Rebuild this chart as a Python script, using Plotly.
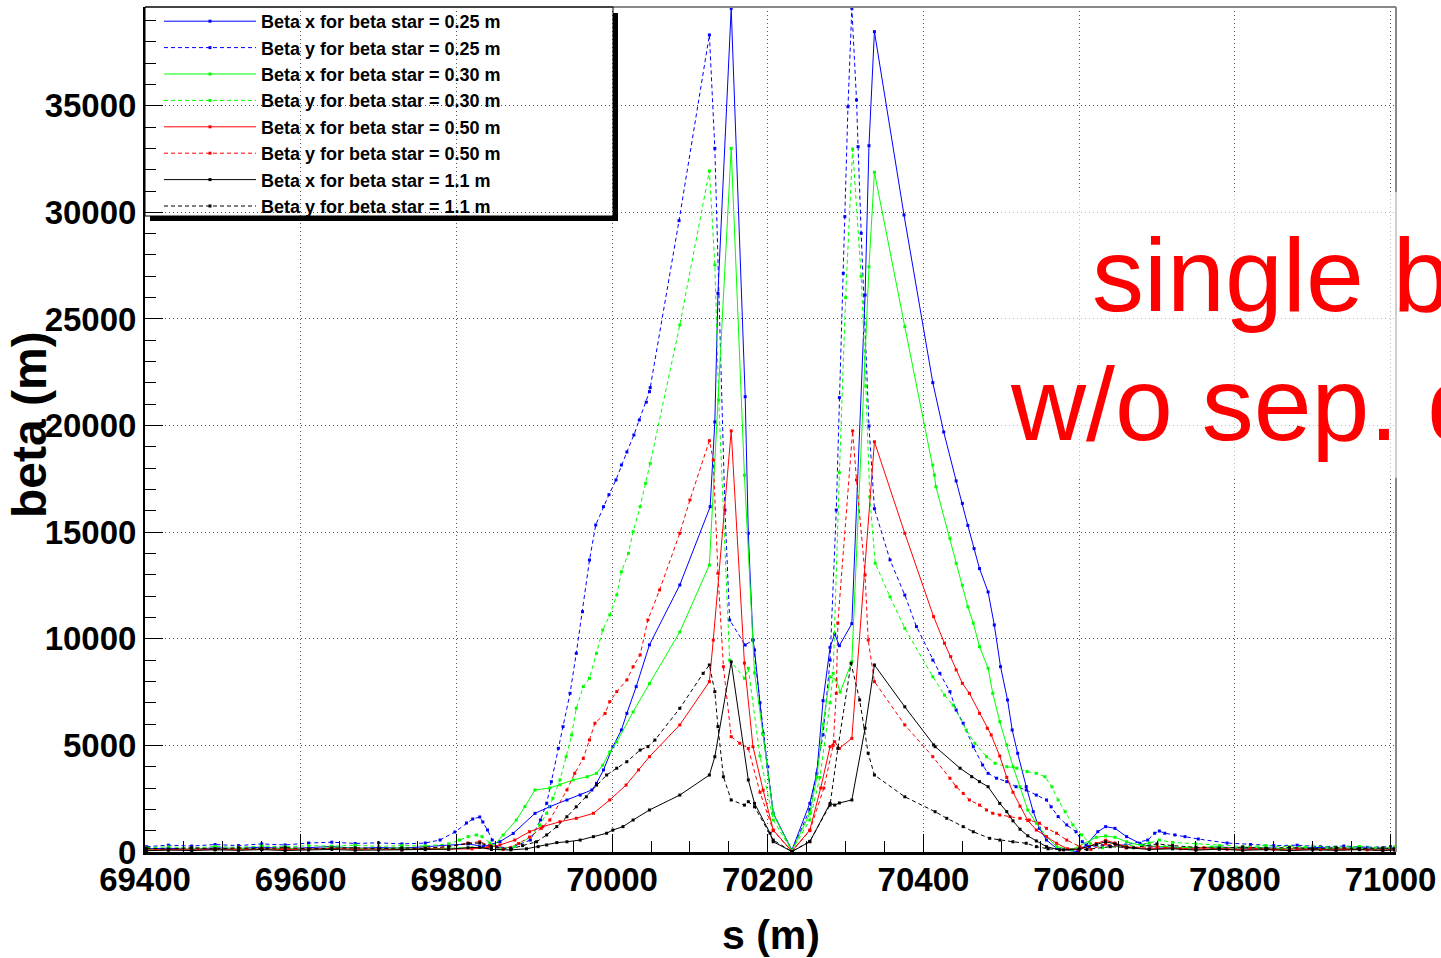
import plotly.graph_objects as go

# beta functions around the IP: s (m) and beta (m) per curve
s_bx025 = [69402, 69430, 69460, 69490, 69520, 69550, 69580, 69610, 69640, 69670, 69700, 69730, 69760, 69790, 69815, 69835,
           69856, 69873, 69901, 69920, 69942, 69959, 69974, 69980, 69989, 70001, 70012, 70019, 70031, 70048, 70087, 70126,
           70132, 70136, 70153, 70171, 70175, 70181, 70183, 70194, 70207, 70231,
           70254, 70263, 70271, 70280, 70286, 70292, 70308, 70325, 70330, 70337, 70375, 70412, 70426, 70442, 70450, 70457,
           70465, 70472, 70483, 70491, 70499, 70508, 70514, 70521, 70532, 70541, 70549, 70558, 70571, 70598, 70609, 70624,
           70634, 70646, 70661, 70678, 70691, 70720, 70750, 70780, 70810, 70840, 70870, 70900, 70930, 70960, 70990, 71005]
beta_bx025 = [150, 180, 120, 200, 160, 230, 150, 190, 260, 170, 210, 180, 240, 300, 380, 260,
              483, 873, 1813, 2126, 2439, 2673, 2908, 3221, 3846, 4941, 5722, 6504, 7755, 9715, 12523, 16195,
              20170, 26200, 39570, 21353, 14949, 9943, 9474, 5566, 1813, 94,
              2282, 3690, 7098, 9600, 10225, 9676, 10709, 26120, 33125, 38474, 29876, 22012, 19700, 17403, 16351, 15315,
              14231, 13292, 12196, 10647, 8692, 7129, 5722, 4629, 3066, 1893, 1110, 563, 172, 15, 328, 953,
              1189, 1110, 719, 407, 250, 210, 180, 240, 160, 200, 150, 220, 170, 190, 150, 200]

s_by025 = [69402, 69430, 69460, 69490, 69520, 69550, 69580, 69610, 69640, 69670, 69700, 69730, 69760,
           69779, 69798, 69813, 69821, 69830, 69834, 69840, 69846, 69852,
           69870, 69895, 69908, 69916, 69922, 69931, 69937, 69946, 69954, 69962, 69971, 69979, 69989, 69996, 70005, 70012,
           70019, 70028, 70035, 70044, 70048, 70049,
           70086, 70125, 70132, 70145, 70151, 70171, 70181, 70190, 70200, 70207, 70231,
           70254, 70271, 70280, 70288, 70292, 70297, 70299, 70303, 70308, 70314, 70316, 70320, 70330, 70337, 70357, 70376,
           70391, 70412, 70421, 70434, 70442, 70451, 70464, 70476, 70483, 70494, 70507, 70519, 70532, 70545, 70558, 70564,
           70573, 70584, 70596, 70604, 70613, 70630, 70660, 70688, 70697, 70703, 70710, 70723, 70736, 70753, 70790, 70820,
           70850, 70880, 70910, 70940, 70970, 71000]
beta_by025 = [250, 320, 280, 350, 300, 380, 330, 420, 460, 400, 430, 380, 420,
              563, 938, 1360, 1548, 1642, 1407, 1032, 563, 234,
              200, 560, 1500, 2284, 3297, 4863, 5877, 7443, 9319, 11270, 13695, 15336, 16195, 16760, 17450, 18150,
              18760, 19560, 20260, 21100, 21590, 21780,
              29610, 38320, 33000, 16040, 10880, 9708, 9943, 7000, 4000, 1813, 50,
              2000, 5500, 9000, 16040, 21310, 27140, 29800, 34950, 39570, 35270, 33080, 29020, 19980, 16100, 13700, 12050,
              10570, 9000, 8380, 7520, 6660, 6040, 4940, 4080, 3690, 3460, 3300, 3060, 2910, 2670, 2440, 2120,
              1660, 1270, 950, 483, 250, 300, 330, 560, 880, 985, 880, 800, 720, 610, 420, 350,
              300, 320, 250, 280, 220, 250]

s_bx030 = [69402, 69430, 69460, 69490, 69520, 69550, 69580, 69610, 69640, 69670, 69700, 69730, 69760, 69790, 69820, 69845,
           69860, 69877, 69888, 69901, 69920, 69933, 69950, 69968, 69980, 69988, 69997, 70006, 70027, 70048, 70087, 70125,
           70153, 70170, 70183, 70194, 70207, 70231,
           70254, 70263, 70271, 70280, 70288, 70293, 70308, 70330, 70337, 70376, 70412, 70414, 70416, 70434, 70442, 70450,
           70457, 70464, 70472, 70483, 70489, 70498, 70507, 70515, 70524, 70534, 70545, 70558, 70571, 70590, 70622, 70634,
           70646, 70661, 70680, 70710, 70740, 70770, 70800, 70830, 70860, 70890, 70920, 70950, 70980, 71005]
beta_bx030 = [120, 100, 150, 110, 170, 130, 180, 140, 200, 160, 150, 190, 140, 180, 200, 174,
              797, 1500, 2130, 2910, 3000, 3150, 3380, 3530, 3690, 4070, 4690, 5160, 6570, 7900, 10320, 13460,
              33000, 17670, 8400, 5500, 1800, 60,
              1800, 3500, 6000, 8220, 8070, 7500, 8925, 27450, 31880, 24640, 18150, 17680, 17130, 14710, 13540, 12520,
              11500, 10730, 9630, 8620, 7440, 6110, 5020, 4000, 3060, 1970, 1350, 720, 250, 100, 690, 750,
              690, 480, 300, 250, 200, 230, 180, 200, 150, 190, 140, 170, 130, 150]

s_by030 = [69402, 69430, 69460, 69490, 69520, 69550, 69580, 69610, 69640, 69670, 69700, 69730, 69760, 69790,
           69804, 69815, 69826, 69833, 69843, 69855, 69875, 69895,
           69907, 69916, 69924, 69933, 69941, 69948, 69954, 69963, 69971, 69980, 69988, 69997, 70006, 70012, 70021, 70027,
           70036, 70043, 70049, 70087, 70125, 70132, 70137, 70151, 70170, 70175, 70190, 70207, 70231,
           70254, 70267, 70280, 70284, 70292, 70300, 70309, 70320, 70326, 70331, 70338, 70357, 70376, 70412, 70427, 70438,
           70455, 70466, 70481, 70492, 70507, 70520, 70533, 70545, 70556, 70565, 70573, 70582, 70592, 70603, 70614, 70630,
           70660, 70690, 70703, 70720, 70750, 70780, 70810, 70840, 70870, 70900, 70930, 70960, 70990, 71005]
beta_by030 = [200, 240, 180, 260, 220, 280, 240, 300, 270, 320, 260, 300, 280, 380,
              560, 720, 800, 720, 420, 150, 250, 700,
              1266, 1815, 2519, 3377, 4470, 5488, 6740, 7754, 8147, 9320, 10412, 11115, 12053, 13146, 14009, 15022,
              16195, 17292, 18230, 24716, 31940, 27530, 21200, 9000, 8147, 8616, 4500, 1500, 60,
              1500, 3500, 7000, 8380, 17790, 26000, 32970, 27000, 21850, 16660, 13540, 11970, 10490, 8220, 7360, 6890,
              5720, 5100, 4470, 4160, 4000, 3930, 3770, 3690, 3530, 3060, 2440, 1890, 1270, 800, 410, 200,
              280, 420, 560, 450, 380, 300, 260, 300, 240, 280, 220, 260, 200, 240]

s_bx050 = [69402, 69430, 69460, 69490, 69520, 69550, 69580, 69610, 69640, 69670, 69700, 69730, 69760, 69790, 69820, 69840,
           69856, 69875, 69894, 69911, 69933, 69954, 69976, 69997, 70018, 70034, 70048, 70087, 70125, 70130,
           70153, 70170, 70181, 70194, 70207, 70231,
           70254, 70268, 70280, 70286, 70292, 70308, 70337, 70376, 70413, 70427, 70435, 70442, 70450, 70459, 70472, 70482,
           70487, 70498, 70507, 70515, 70524, 70534, 70545, 70558, 70571, 70585, 70600, 70622, 70634, 70646, 70661, 70690,
           70720, 70750, 70780, 70810, 70840, 70870, 70900, 70930, 70960, 70990, 71005]
beta_bx050 = [80, 120, 90, 140, 100, 150, 110, 130, 170, 120, 140, 110, 160, 130, 150, 200,
              330, 560, 950, 1190, 1420, 1580, 1815, 2440, 3140, 3850, 4470, 5960, 7990, 9940,
              19750, 8860, 4940, 2900, 1030, 30,
              1030, 3000, 4940, 5170, 4860, 5330, 19240, 14950, 11040, 9790, 9160, 8540, 7910, 7440, 6500, 5800,
              5490, 4500, 3500, 2800, 2150, 1480, 1030, 720, 410, 150, 100, 400, 550, 420, 250, 150,
              180, 120, 160, 100, 140, 90, 130, 100, 120, 90, 110]

s_by050 = [69402, 69430, 69460, 69490, 69520, 69550, 69580, 69610, 69640, 69670, 69700, 69730, 69760, 69790, 69815, 69830,
           69843, 69860, 69880, 69894, 69909, 69920, 69942, 69952, 69963, 69971, 69978, 69991, 69997, 70006, 70019, 70027,
           70036, 70046, 70061, 70087, 70100, 70125, 70130, 70136, 70143, 70153, 70164, 70175, 70190, 70207, 70231,
           70254, 70272, 70284, 70288, 70290, 70309, 70314, 70325, 70329, 70337, 70376, 70412, 70434, 70442, 70451, 70459,
           70472, 70481, 70489, 70498, 70511, 70524, 70536, 70549, 70558, 70571, 70584, 70601, 70615, 70634, 70660, 70700,
           70730, 70760, 70790, 70820, 70850, 70880, 70910, 70940, 70970, 71005]
beta_by050 = [150, 100, 170, 120, 180, 130, 160, 120, 190, 140, 170, 130, 180, 250, 420, 480,
              300, 120, 400, 700, 1110, 1500, 2910, 3690, 4390, 5250, 6040, 6500, 7050, 7520, 8070, 8690,
              9240, 10880, 12290, 14950, 16510, 19290, 18380, 13070, 8690, 5410, 5100, 4860, 2800, 1000, 30,
              1000, 3000, 5000, 7440, 10730, 19750, 17450, 12990, 9940, 7990, 5960, 4470, 3460, 3060, 2750, 2440,
              2200, 1970, 1815, 1735, 1655, 1580, 1500, 1350, 1110, 880, 560, 250, 120, 380, 200, 250,
              150, 200, 130, 180, 120, 160, 110, 150, 100, 130]

s_bx11 = [69402, 69430, 69460, 69490, 69520, 69550, 69580, 69610, 69640, 69670, 69700, 69730, 69760, 69790, 69815, 69830,
          69845, 69870, 69890, 69905, 69916, 69929, 69942, 69959, 69976, 69993, 70001, 70014, 70027, 70048, 70087, 70125,
          70132, 70153, 70175, 70183, 70203, 70207, 70231,
          70254, 70280, 70286, 70292, 70308, 70325, 70337, 70376, 70413, 70415, 70447, 70462, 70472, 70483, 70498, 70507,
          70515, 70524, 70534, 70545, 70558, 70575, 70600, 70622, 70634, 70646, 70661, 70690, 70720, 70750, 70780, 70810,
          70840, 70870, 70900, 70930, 70960, 70990, 71005]
beta_bx11 = [60, 90, 70, 100, 80, 110, 70, 90, 120, 80, 100, 90, 110, 130, 200, 220,
             120, 100, 150, 250, 330, 440, 480, 560, 720, 880, 1030, 1190, 1500, 1970, 2670, 3610,
             4470, 8920, 3380, 2280, 880, 480, 20,
             480, 2280, 2200, 2300, 2440, 5800, 8770, 6810, 5020, 4940, 3930, 3530, 3300, 3060, 2280, 1890,
             1460, 1070, 760, 520, 250, 100, 150, 350, 480, 380, 200, 120, 150, 90, 130, 80,
             110, 70, 100, 80, 110, 70, 90]

s_by11 = [69402, 69430, 69460, 69490, 69520, 69550, 69580, 69610, 69640, 69670, 69700, 69730, 69760, 69790, 69815, 69830,
          69845, 69870, 69885, 69903, 69916, 69929, 69942, 69954, 69967, 69980, 69993, 70006, 70019, 70036, 70046, 70055,
          70087, 70117, 70125, 70132, 70136, 70143, 70153, 70170, 70175, 70183, 70207, 70231,
          70254, 70280, 70290, 70307, 70318, 70329, 70337, 70376, 70415, 70430, 70451, 70464, 70485, 70498, 70515, 70532,
          70545, 70560, 70580, 70610, 70640, 70670, 70700, 70720, 70750, 70780, 70810, 70840, 70870, 70900, 70930, 70960,
          70990, 71005]
beta_by11 = [180, 140, 200, 150, 190, 160, 210, 150, 180, 200, 160, 190, 170, 250, 400, 420,
             250, 150, 300, 480, 800, 1190, 1655, 2120, 2590, 3140, 3610, 3930, 4235, 4780, 4940, 5250,
             6740, 8380, 8770, 7520, 5880, 3530, 2440, 2200, 2360, 2120, 560, 20,
             500, 2200, 4860, 8850, 7130, 4630, 3610, 2590, 1890, 1580, 1190, 950, 640, 560, 480, 410,
             250, 150, 100, 120, 250, 200, 380, 300, 220, 180, 230, 170, 210, 150, 200, 160,
             190, 150]

labels = ["Beta x for beta star = 0.25 m", "Beta y for beta star = 0.25 m",
          "Beta x for beta star = 0.30 m", "Beta y for beta star = 0.30 m",
          "Beta x for beta star = 0.50 m", "Beta y for beta star = 0.50 m",
          "Beta x for beta star = 1.1 m", "Beta y for beta star = 1.1 m"]
series = [(s_bx025, beta_bx025), (s_by025, beta_by025), (s_bx030, beta_bx030), (s_by030, beta_by030),
          (s_bx050, beta_bx050), (s_by050, beta_by050), (s_bx11, beta_bx11), (s_by11, beta_by11)]
colors = ["#0000ff", "#0000ff", "#00ff00", "#00ff00", "#ff0000", "#ff0000", "#000000", "#000000"]
dashes = ["solid", "4px,3px"] * 4

FONT = "Liberation Sans, Arial, sans-serif"

# page geometry (pixels) of the plot frame
L, R, T, B = 145, 1396, 7, 852
W, H = 1441, 958


def px(x):
    return (x - L) / (R - L)


def py(y):
    return (B - y) / (B - T)


fig = go.Figure()
for (s, b), name, col, dash in zip(series, labels, colors, dashes):
    fig.add_trace(go.Scatter(
        x=s, y=b, mode="lines+markers", name=name,
        line=dict(color=col, width=1, dash=dash),
        marker=dict(symbol="square", size=3, color=col),
    ))

axis_common = dict(
    showgrid=True, gridcolor="#555555", griddash="1px,3px", gridwidth=1,
    zeroline=False, showline=True, linecolor="black",
    ticks="inside", ticklen=18, tickwidth=1, tickcolor="black", tickformat="d",
    tickfont=dict(family=FONT, size=33, color="black", weight="bold"),
)

fig.update_layout(
    width=W, height=H,
    paper_bgcolor="white", plot_bgcolor="white",
    margin=dict(l=L, r=W - R, t=T, b=H - B, autoexpand=False),
    xaxis=dict(range=[69400, 71007], tick0=69400, dtick=200, linewidth=3, ticklabelstandoff=-4,
               minor=dict(dtick=50, ticklen=11, ticks="inside", tickcolor="black", showgrid=False),
               **axis_common),
    yaxis=dict(range=[0, 39630], tick0=0, dtick=5000, linewidth=2,
               minor=dict(dtick=1000, ticklen=11, ticks="inside", tickcolor="black", showgrid=False),
               **axis_common),
    showlegend=True,
    legend=dict(x=px(159), y=py(3), xanchor="left", yanchor="top",
                bgcolor="rgba(0,0,0,0)", borderwidth=0, itemwidth=92, tracegroupgap=0,
                font=dict(family=FONT, size=18, color="black", weight="bold")),
    font=dict(family=FONT),
)

# ROOT-like frame: grey top/right edges, legend box with black drop shadow
shapes = [
    dict(type="line", xref="paper", yref="paper", x0=0, x1=1, y0=1, y1=1, line=dict(color="#888888", width=2)),
    dict(type="line", xref="paper", yref="paper", x0=1, x1=1, y0=0, y1=1, line=dict(color="#888888", width=2)),
    dict(type="rect", xref="paper", yref="paper", x0=0, x1=px(613), y0=py(216), y1=1,
         line=dict(color="black", width=1), fillcolor="rgba(0,0,0,0)"),
    dict(type="rect", xref="paper", yref="paper", x0=px(150), x1=px(618), y0=py(221), y1=py(216),
         line=dict(width=0), fillcolor="black"),
    dict(type="rect", xref="paper", yref="paper", x0=px(613), x1=px(618), y0=py(221), y1=py(13),
         line=dict(width=0), fillcolor="black"),
    # pale box behind the red note
    dict(type="rect", xref="paper", yref="paper", x0=px(1000), x1=px(1460), y0=py(478), y1=py(192),
         line=dict(width=0), fillcolor="rgba(255,255,255,0.6)", layer="above"),
]
fig.update_layout(shapes=shapes)

annotations = [
    dict(text="s (m)", xref="paper", yref="paper", x=0.5, y=py(935), xanchor="center", yanchor="middle",
         showarrow=False, font=dict(family=FONT, size=41, color="black", weight="bold")),
    dict(text="beta (m)", xref="paper", yref="paper", x=px(30), y=py(425), xanchor="center", yanchor="middle",
         textangle=-90, showarrow=False, font=dict(family=FONT, size=48, color="black", weight="bold")),
    dict(text="single beam", xref="paper", yref="paper", x=px(1090), y=py(275), xanchor="left", yanchor="middle",
         showarrow=False, font=dict(family=FONT, size=104, color="#ff0000")),
    dict(text="w/o sep. dipoles", xref="paper", yref="paper", x=px(1008), y=py(404), xanchor="left",
         yanchor="middle", showarrow=False, font=dict(family=FONT, size=104, color="#ff0000")),
]
fig.update_layout(annotations=annotations)

# drop the browser's default 8px body margin so the figure sits at the page corner
fig.write_html("out.html", config={"displayModeBar": False},
               post_script="document.body.style.margin='0';")
